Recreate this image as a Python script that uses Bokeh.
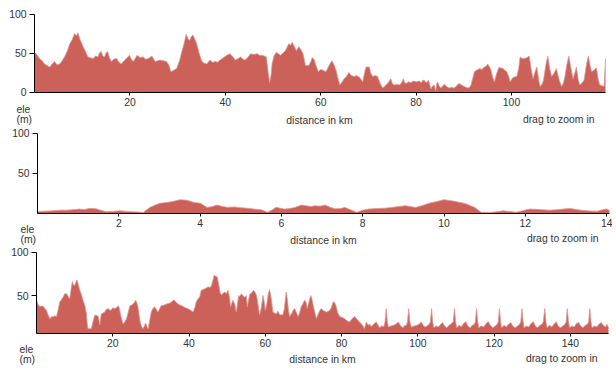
from bokeh.plotting import figure
from bokeh.models import Range1d, FixedTicker, Label, ColumnDataSource
from bokeh.layouts import column
from bokeh.embed import file_html
from bokeh.resources import INLINE

# ---- data: elevation profiles (distance km, elevation m) ----
d1 = [0.0, 0.5, 1.05, 1.6, 2.1, 2.6, 3.2, 3.7, 4.2, 4.7, 5.3, 5.8, 6.3, 6.9, 7.4, 7.9, 8.4, 8.8, 9.1, 9.5,
      10.2, 10.7, 11.2, 11.7, 12.3, 12.8, 13.3, 13.6, 14.0, 14.3, 14.7, 15.0, 15.3, 15.7, 16.1, 16.6, 17.2, 17.7,
      18.2, 18.9, 19.4, 19.9, 20.3, 20.7, 21.1, 21.5, 22.1, 22.8, 23.3, 23.9, 24.6, 25.0, 25.3, 25.8, 26.3, 27.0,
      27.7, 28.2, 28.6, 29.2, 29.8, 30.4, 30.9, 31.4, 31.8, 32.2, 32.5, 32.9, 33.2, 33.6, 34.0, 34.5, 35.1, 35.6,
      36.1, 36.8, 37.3, 37.9, 38.4, 38.9, 39.6, 40.3, 41.0, 41.6, 42.1, 42.7, 43.2, 43.7, 44.2, 44.8, 45.3, 46.0,
      46.7, 47.2, 47.7, 48.2, 48.6, 49.0, 49.3, 49.6, 49.8, 50.2, 50.7, 51.1, 51.6, 52.1, 52.6, 53.0, 53.3, 53.7,
      54.0, 54.5, 54.9, 55.4, 55.9, 56.3, 56.8, 57.5, 58.0, 58.2, 58.6, 58.9, 59.5, 60.0, 60.5, 61.1, 61.6, 62.3,
      62.8, 63.2, 63.6, 64.0, 64.5, 64.9, 65.4, 65.9, 66.4, 67.0, 67.5, 68.1, 68.8, 69.2, 69.5, 70.2, 70.5, 70.9,
      71.4, 71.9, 72.4, 73.0, 73.5, 74.0, 74.4, 74.7, 75.0, 75.4, 76.0, 76.5, 77.0, 77.3, 77.6, 77.9, 78.4, 78.9,
      79.4, 80.0, 80.6, 81.1, 81.4, 81.7, 82.1, 82.6, 83.1, 83.5, 83.8, 84.1, 84.3, 84.5, 84.8, 85.2, 85.6, 85.9,
      86.4, 86.9, 87.4, 88.0, 88.5, 89.0, 89.5, 90.1, 90.8, 91.2, 91.5, 91.9, 92.2, 92.7, 93.3, 93.8, 94.3, 94.7,
      95.0, 95.4, 95.7, 96.0, 96.4, 96.8, 97.3, 97.7, 98.2, 98.6, 99.0, 99.4, 99.7, 100.1, 100.4, 101.1, 101.5,
      101.8, 102.2, 102.7, 103.2, 103.7, 104.1, 104.5, 104.9, 105.3, 105.7, 106.0, 106.4, 106.7, 107.2, 107.6,
      108.0, 108.4, 108.9, 109.4, 110.0, 110.5, 110.9, 111.2, 111.6, 112.0, 112.4, 112.9, 113.3, 113.6, 114.0,
      114.3, 114.8, 115.2, 115.7, 116.1, 116.5, 116.8, 117.3, 117.8, 118.2, 118.5, 119.0, 119.4, 119.6, 119.7]
e1 = [51, 48, 43, 40, 36, 34, 32, 36, 39, 35, 36, 40, 45, 53, 62, 67, 75, 72, 76, 68,
      58, 52, 45, 44, 43, 46, 45, 50, 52, 46, 45, 50, 52, 44, 39, 42, 43, 38,
      36, 41, 44, 47, 42, 39, 43, 47, 44, 45, 42, 43, 46, 42, 39, 40, 41, 40,
      39, 34, 26, 28, 30, 40, 52, 63, 74, 68, 66, 71, 73, 68, 62, 50, 39, 37,
      36, 41, 38, 39, 38, 41, 44, 47, 49, 45, 41, 43, 45, 42, 41, 45, 49, 48,
      49, 47, 47, 46, 45, 24, 12, 22, 36, 46, 51, 49, 47, 50, 53, 58, 62, 60,
      64, 58, 53, 58, 54, 49, 34, 34, 40, 44, 42, 36, 26, 29, 28, 26, 32, 40,
      35, 28, 18, 9, 13, 17, 20, 25, 21, 20, 21, 19, 13, 25, 32, 32, 24, 20,
      21, 20, 12, 5, 8, 11, 14, 17, 11, 9, 10, 9, 12, 17, 12, 11, 13, 12,
      14, 13, 14, 12, 15, 15, 12, 15, 4, 8, 9, 1, 10, 13, 8, 5, 8, 10,
      7, 5, 6, 5, 8, 11, 9, 7, 5, 6, 9, 18, 26, 28, 30, 29, 32, 33,
      36, 32, 28, 20, 13, 22, 31, 31, 30, 28, 26, 20, 13, 17, 19, 20, 30,
      45, 43, 43, 44, 46, 30, 17, 25, 32, 15, 7, 10, 15, 35, 46,
      30, 20, 24, 30, 15, 7, 12, 20, 35, 46, 32, 17, 25, 32, 15,
      9, 12, 15, 35, 46, 33, 26, 28, 31, 15, 9, 8, 7, 30, 43]

d2 = [0.0, 0.2, 0.37, 0.55, 0.7, 0.85, 1.03, 1.15, 1.28, 1.44, 1.55, 1.69, 1.85, 2.02, 2.2, 2.35, 2.5, 2.6,
      2.77, 2.9, 3.01, 3.18, 3.35, 3.51, 3.68, 3.85, 4.01, 4.17, 4.3, 4.42, 4.55, 4.67, 4.85, 5.0, 5.15, 5.33,
      5.5, 5.66, 5.78, 5.87, 5.97, 6.08, 6.2, 6.33, 6.49, 6.6, 6.74, 6.82, 6.95, 7.07, 7.2, 7.32, 7.45, 7.56,
      7.7, 7.85, 8.0, 8.14, 8.35, 8.56, 8.8, 9.05, 9.3, 9.45, 9.63, 9.8, 10.0, 10.21, 10.4, 10.54, 10.65, 10.75,
      10.91, 11.12, 11.3, 11.45, 11.6, 11.78, 11.95, 12.11, 12.28, 12.44, 12.6, 12.77, 12.95, 13.11, 13.28,
      13.44, 13.6, 13.77, 13.9, 14.0, 14.07]
e2 = [2.9, 3.3, 3.7, 4.5, 4.5, 5.0, 5.8, 5.2, 6.7, 6.3, 4.5, 2.5, 3.0, 3.8, 3.0, 2.5, 2.2, 1.7,
      8, 11, 13, 14, 15.5, 17.5, 16.7, 14, 13, 7.9, 9, 10.8, 9, 8, 8.5, 7.5, 7, 5.8,
      5, 2, 5, 8, 7, 5.8, 6.5, 7.9, 10.8, 10, 9, 10, 9.5, 10.8, 8, 6.2, 6.5, 7.9,
      5, 2, 4.5, 5.8, 6.5, 7, 8.5, 10, 7.9, 10, 13, 15, 17.5, 16, 14, 12.5, 10, 8,
      2, 1.7, 2.5, 3.75, 3, 2, 4, 5.8, 5.5, 5, 4.5, 5, 6, 6.7, 5,
      4, 3.5, 3.3, 5, 5.8, 4]

d3 = [0.0, 0.4, 0.87, 1.3, 1.74, 2.2, 2.6, 3.0, 3.5, 4.0, 4.4, 4.8, 5.2, 5.6, 6.1, 6.5, 7.0, 7.4, 7.9, 8.3,
      8.7, 9.1, 9.4, 9.7, 10.0, 10.3, 10.6, 11.0, 11.3, 11.7, 12.2, 12.7, 13.1, 13.3, 13.5, 14.0, 14.4, 14.8,
      15.3, 15.8, 16.2, 16.6, 17.0, 17.5, 17.9, 18.3, 18.8, 19.2, 19.6, 20.0, 20.5, 21.0, 21.4, 21.7, 22.0,
      22.4, 22.7, 23.2, 23.6, 24.0, 24.5, 24.9, 25.3, 25.7, 26.0, 26.3, 26.6, 27.0, 27.3, 27.6, 27.9, 28.3,
      28.6, 29.0, 29.3, 29.7, 30.1, 30.5, 31.0, 31.4, 31.9, 32.3, 32.7, 33.4, 34.1, 34.7, 35.4, 36.0, 36.5,
      37.1, 37.7, 38.4, 39.0, 39.7, 40.4, 41.1, 41.5, 41.9, 42.3, 42.8, 43.2, 43.7, 44.3, 45.0, 45.5, 45.9,
      46.3, 46.6, 47.0, 47.4, 47.8, 48.2, 48.6, 49.0, 49.4, 49.8, 50.2, 50.6, 50.9, 51.2, 51.5, 52.0, 52.4,
      52.7, 53.0, 53.3, 53.7, 54.1, 54.6, 55.0, 55.3, 55.6, 56.0, 56.4, 56.9, 57.3, 57.7, 58.1, 58.5, 58.9,
      59.4, 59.7, 60.0, 60.4, 60.8, 61.1, 61.5, 62.0, 62.4, 62.9, 63.3, 63.8, 64.2, 64.6, 65.0, 65.3, 65.5,
      65.8, 66.1, 66.4, 67.0, 67.3, 67.7, 68.1, 68.6, 69.0, 69.4, 69.8, 70.3, 70.7, 71.0, 71.4, 71.9, 72.2,
      72.5, 72.9, 73.4, 73.8, 74.3, 74.7, 75.1, 75.6, 76.0, 76.5, 76.9, 77.3, 77.8, 78.2, 78.6, 79.0, 79.5,
      80.1, 80.8, 81.4, 82.1, 82.7, 83.4, 83.8, 84.3, 84.8, 85.2, 85.6, 86.0, 86.5, 87.0, 87.4, 87.8, 88.4,
      89.1, 89.6, 90.0, 90.5, 91.1, 91.4, 91.7, 92.0, 92.3, 92.9, 93.5, 94.2, 94.9, 95.5, 96.1, 96.6, 97.0,
      97.3, 97.6, 97.9, 98.3, 99.0, 99.6, 100.3, 100.9, 101.4, 101.8, 102.4, 103.0, 103.3, 103.6, 103.9,
      104.2, 104.8, 105.4, 106.0, 106.5, 107.0, 107.6, 108.2, 108.9, 109.3, 109.6, 109.9, 110.2, 110.8,
      111.4, 112.0, 112.6, 113.1, 113.7, 114.3, 114.8, 115.1, 115.4, 115.7, 116.0, 116.6, 117.3, 117.9,
      118.5, 119.0, 119.7, 120.3, 120.8, 121.1, 121.4, 121.7, 122.0, 122.6, 123.2, 123.8, 124.4, 124.9,
      125.5, 126.1, 126.7, 127.0, 127.3, 127.6, 127.9, 128.5, 129.1, 129.7, 130.3, 130.8, 131.4, 132.0,
      132.6, 132.9, 133.3, 133.6, 133.9, 134.5, 135.1, 135.7, 136.3, 136.8, 137.4, 138.0, 138.6, 138.9,
      139.2, 139.5, 139.8, 140.4, 141.0, 141.6, 142.2, 142.7, 143.3, 143.9, 144.5, 144.8, 145.1, 145.4,
      145.7, 146.3, 146.9, 147.5, 148.1, 148.6, 149.2, 149.6, 150.0]
e3 = [45, 40, 37, 38, 37.6, 35, 33, 28, 23.5, 26, 25.5, 27, 25.5, 32, 42.7, 45, 48.3, 52, 52, 49,
      46, 58, 66, 62, 61.5, 65, 68, 62, 57, 52, 44.6, 38, 29, 18, 12, 12, 12, 20,
      27.6, 27, 26, 16.4, 29, 30, 31, 34, 35, 33, 33.5, 36, 35, 36, 38.4, 36, 29,
      22, 17.7, 20, 23.5, 30, 38.4, 39, 40.3, 42, 44.6, 42, 37, 25, 17.7, 14, 12, 15,
      18.4, 14, 12, 22, 31, 35, 37, 34, 31, 35, 38.4, 39, 40.3, 41, 42.7, 45, 43,
      40.3, 39, 37.6, 36, 35, 33, 31, 36, 42.7, 46, 48.3, 56, 57, 58, 60, 59, 61.5,
      68, 73.5, 72, 71.5, 62, 52, 51, 53, 54, 52, 56, 48, 37, 41, 44.6, 40, 31,
      40, 50, 49, 52, 50, 48, 50, 37, 45, 52, 53, 56, 54, 50, 40, 27.6, 35,
      50, 43, 33, 40, 52, 57, 48, 31, 30, 29, 32, 27.6, 28, 27.6, 35, 48, 54,
      45, 32, 26, 30, 33, 35, 31, 26, 30, 37, 40, 44.6, 42, 35, 42, 50, 47,
      40, 32, 23.5, 28, 33, 35, 33, 32, 31, 32, 33, 36, 42.7, 42, 37, 30, 26,
      25, 23.5, 21, 19.6, 23, 26, 24, 21.6, 19, 17.7, 15, 12, 19.6, 16, 17, 14.6, 17,
      19.6, 16, 13, 15, 14.6, 20, 35, 20, 13.8, 15, 15.6, 17, 19.6, 15, 13, 16, 15.6,
      20, 35, 20, 13.8, 15, 15.6, 17, 19.6, 16, 13.8, 15, 17, 20, 35, 20,
      13, 15, 14, 17, 19, 15, 13, 16, 18, 20, 35, 20, 13, 16,
      14, 18, 20, 15, 13, 16, 17, 20, 35, 20, 13, 15, 14, 18,
      20, 16, 13, 15, 17, 20, 35, 20, 13, 16, 14, 17, 19, 15,
      13, 15, 17, 20, 35, 20, 13, 15, 14, 18, 20, 15, 13, 16,
      17, 20, 35, 20, 13, 16, 14, 17, 20, 15, 13, 15, 17, 20,
      35, 20, 13, 15, 14, 18, 19, 15, 13, 16, 17, 20, 35, 20,
      13, 15, 14, 17, 19, 16, 14, 17, 13]

x_ticks1 = [20, 40, 60, 80, 100]
x_ticks2 = [2, 4, 6, 8, 10, 12, 14]
x_ticks3 = [20, 40, 60, 80, 100, 120, 140]
y_ticks1 = [0, 50, 100]
y_ticks2 = [50, 100]
y_ticks3 = [50, 100]
texts = ["ele", "(m)", "distance in km", "drag to zoom in"]

FILL = "#cc6159"
EDGE = "#dd9893"
TXT = "#333333"
FONT = "Liberation Sans"
FS = "10.4px"
W = 612
X0 = 1    # page x of the canvas' left edge (measured)
Y0 = 1.5  # extra page y offset of the canvases (measured)


def panel(d, e, xmax, ymin, xticks, yticks, top, h, ax_x, right_x, y100, ybase, lab):
    # pixel layout (page coordinates) -> data ranges covering the whole canvas
    ctop = top + Y0
    sx = (right_x - ax_x) / xmax
    xlo = -(ax_x - X0) / sx
    xhi = xlo + W / sx
    sy = (ybase - y100) / (100 - ymin)
    yhi = 100 + (y100 - ctop) / sy
    ylo = yhi - h / sy

    def px(x):
        return xlo + (x - X0) / sx

    def py(y):
        return yhi - (y - ctop) / sy

    p = figure(width=W, height=h, x_range=Range1d(xlo, xhi), y_range=Range1d(ylo, yhi),
               output_backend="svg", toolbar_location=None,
               min_border=0, min_border_left=0, min_border_right=0, min_border_top=0, min_border_bottom=0)
    src = ColumnDataSource(dict(d=d, e=e, base=[ymin] * len(d)))
    p.varea(x="d", y1="base", y2="e", source=src, fill_color=FILL)
    p.line(x="d", y="e", source=src, line_color=EDGE, line_width=1, line_alpha=0.8)
    p.grid.visible = False
    p.outline_line_color = None
    p.xaxis.ticker = FixedTicker(ticks=xticks)
    p.yaxis.ticker = FixedTicker(ticks=yticks)
    p.xaxis.fixed_location = ymin
    p.yaxis.fixed_location = 0
    p.xaxis.bounds = (0, xmax)
    p.yaxis.bounds = (ymin, 100)
    for ax in (p.xaxis[0], p.yaxis[0]):
        ax.axis_line_color = "black"
        ax.axis_line_width = 1
        ax.major_tick_line_color = "black"
        ax.minor_tick_line_color = None
        ax.major_tick_in = 0
        ax.major_label_text_font = FONT
        ax.major_label_text_font_size = FS
        ax.major_label_text_color = TXT
    p.xaxis.major_tick_out = 3
    p.xaxis.major_label_standoff = 3
    p.yaxis.major_tick_out = 5
    p.yaxis.major_label_standoff = 3

    aligns = ["left", "left", "center", "right"]
    for t, (lx, ly), al in zip(texts, lab, aligns):
        p.add_layout(Label(x=px(lx), y=py(ly), text=t, text_align=al, text_baseline="alphabetic",
                           text_font=FONT, text_font_size=FS, text_color=TXT))
    return p


p1 = panel(d1, e1, 119.7, 0, x_ticks1, y_ticks1, 0, 127, 35, 606, 15, 93,
           [(17, 110), (17, 120.5), (320, 121), (595, 120)])
p2 = panel(d2, e2, 14.07, 1, x_ticks2, y_ticks2, 127, 119, 38, 610, 134, 214,
           [(21, 230), (21, 240), (324, 241), (599, 239)])
p3 = panel(d3, e3, 150.0, 7, x_ticks3, y_ticks3, 246, 122, 37, 609, 253, 334,
           [(20, 350), (20, 360), (323, 360.5), (598, 359.5)])

layout = column(p1, p2, p3, spacing=0)
open("out.html", "w").write(file_html(layout, INLINE))
